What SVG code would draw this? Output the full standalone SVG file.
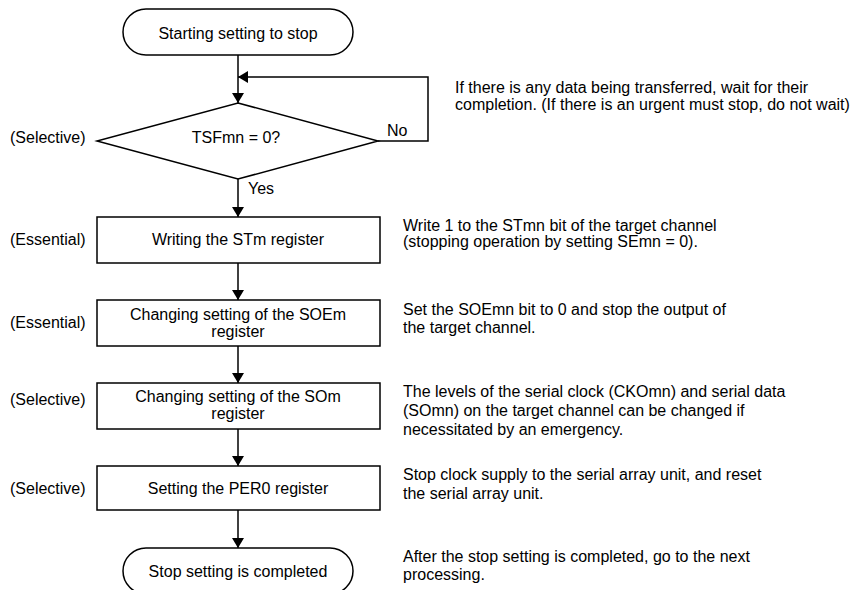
<svg xmlns="http://www.w3.org/2000/svg" width="855" height="590" viewBox="0 0 855 590">
<style>
text{font-family:"Liberation Sans",Arial,sans-serif;font-size:16px;fill:#000}
.c{text-anchor:middle}
.s{fill:#fff;stroke:#000;stroke-width:1.5}
.l{fill:none;stroke:#000;stroke-width:1.5}
</style>
<defs>
<marker id="a" viewBox="0 0 10 12" refX="10" refY="6" markerWidth="10" markerHeight="12" markerUnits="userSpaceOnUse" orient="auto">
<path d="M0,0 L10,6 L0,12 Z" fill="#000"/>
</marker>
</defs>
<rect width="855" height="590" fill="#fff"/>
<g id="connectors">
<path class="l" d="M238,55 V103" marker-end="url(#a)"/>
<path class="l" d="M378,141 H428 V77 H238" marker-end="url(#a)"/>
<path class="l" d="M238,179 V217" marker-end="url(#a)"/>
<path class="l" d="M238,263 V300" marker-end="url(#a)"/>
<path class="l" d="M238,346 V383" marker-end="url(#a)"/>
<path class="l" d="M238,429 V466" marker-end="url(#a)"/>
<path class="l" d="M238,510 V548" marker-end="url(#a)"/>
<text x="387" y="136">No</text>
<text x="248" y="194">Yes</text>
</g>
<g id="start">
<rect class="s" x="123" y="9" width="230" height="46" rx="23"/>
<text class="c" x="238" y="39">Starting setting to stop</text>
</g>
<g id="decision">
<path class="s" d="M238,103 L378,141 L238,179 L97,141 Z"/>
<text class="c" x="236" y="143">TSFmn = 0?</text>
<text x="10" y="143">(Selective)</text>
</g>
<g id="note0">
<text x="455" y="93">If there is any data being transferred, wait for their</text>
<text x="455" y="110">completion. (If there is an urgent must stop, do not wait)</text>
</g>
<g id="box1">
<rect class="s" x="97" y="217" width="283" height="46"/>
<text class="c" x="238" y="245">Writing the STm register</text>
<text x="10" y="245">(Essential)</text>
<text x="403" y="231">Write 1 to the STmn bit of the target channel</text>
<text x="403" y="247">(stopping operation by setting SEmn = 0).</text>
</g>
<g id="box2">
<rect class="s" x="97" y="300" width="283" height="46"/>
<text class="c" x="238" y="320">Changing setting of the SOEm</text>
<text class="c" x="238" y="337">register</text>
<text x="10" y="328">(Essential)</text>
<text x="403" y="315">Set the SOEmn bit to 0 and stop the output of</text>
<text x="403" y="333">the target channel.</text>
</g>
<g id="box3">
<rect class="s" x="97" y="383" width="283" height="46"/>
<text class="c" x="238" y="402">Changing setting of the SOm</text>
<text class="c" x="238" y="419">register</text>
<text x="10" y="405">(Selective)</text>
<text x="403" y="397">The levels of the serial clock (CKOmn) and serial data</text>
<text x="403" y="416">(SOmn) on the target channel can be changed if</text>
<text x="403" y="435">necessitated by an emergency.</text>
</g>
<g id="box4">
<rect class="s" x="97" y="466" width="283" height="44"/>
<text class="c" x="238" y="494">Setting the PER0 register</text>
<text x="10" y="494">(Selective)</text>
<text x="403" y="480">Stop clock supply to the serial array unit, and reset</text>
<text x="403" y="499">the serial array unit.</text>
</g>
<g id="end">
<rect class="s" x="123" y="548" width="230" height="46" rx="23"/>
<text class="c" x="238" y="577">Stop setting is completed</text>
<text x="403" y="562">After the stop setting is completed, go to the next</text>
<text x="403" y="580">processing.</text>
</g>
</svg>
